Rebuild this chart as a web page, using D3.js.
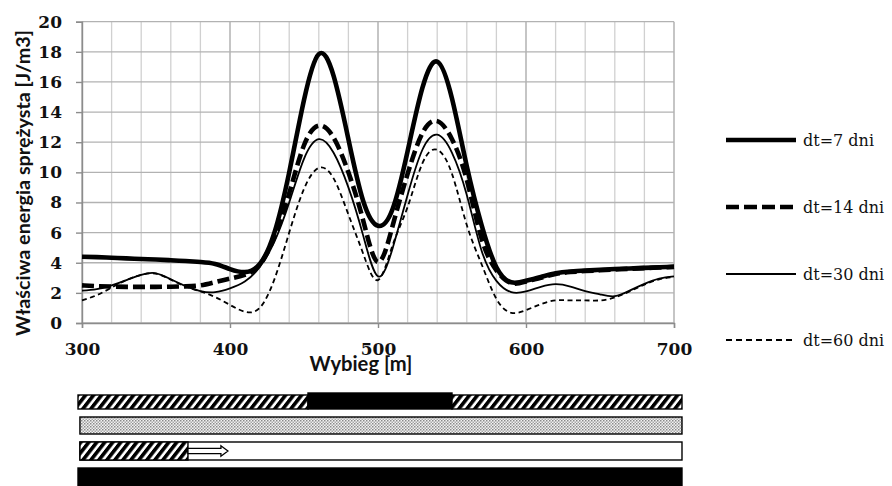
<!DOCTYPE html>
<html><head><meta charset="utf-8">
<script src="https://cdn.jsdelivr.net/npm/d3@7/dist/d3.min.js"></script>
<style>body{margin:0;background:#fff}svg{display:block}</style>
</head><body>
<svg id="c" width="892" height="486"></svg>
<script>
// ---------------- data ----------------
const distances = [300,310,320,330,340,350,360,370,380,390,400,410,420,430,440,450,460,470,480,490,500,
                   510,520,530,540,550,560,570,580,590,600,610,620,630,640,650,660,670,680,690,700];
const seriesNames = ["dt=7 dni","dt=14 dni","dt=30 dni","dt=60 dni"];
const dt7  = [4.40,4.37,4.33,4.29,4.25,4.21,4.17,4.12,4.05,3.92,3.58,3.38,3.90,6.00,10.0,14.8,17.85,16.4,12.2,8.1,6.45,
              7.6,11.4,15.6,17.35,14.9,10.4,6.5,3.7,2.7,2.8,3.05,3.3,3.42,3.48,3.53,3.58,3.62,3.66,3.70,3.74];
const dt14 = [2.50,2.45,2.42,2.40,2.40,2.40,2.41,2.43,2.50,2.72,2.95,3.20,3.85,5.7,8.6,11.8,13.1,12.3,10.0,6.8,4.05,
              6.5,9.9,12.6,13.4,12.2,9.5,5.6,3.5,2.65,2.75,3.0,3.25,3.38,3.45,3.5,3.55,3.6,3.64,3.68,3.72];
const dt30 = [2.15,2.25,2.50,2.85,3.20,3.30,2.90,2.45,2.12,2.05,2.30,2.75,3.70,5.4,8.0,10.9,12.2,11.3,9.0,5.8,3.1,
              5.0,8.5,11.5,12.5,11.3,8.5,4.8,2.8,2.05,2.1,2.4,2.58,2.42,2.12,1.9,1.78,2.15,2.6,2.95,3.1];
const dt60 = [1.50,1.85,2.35,2.85,3.20,3.28,2.88,2.43,2.10,1.72,1.20,0.75,1.00,2.9,6.0,8.9,10.3,9.6,7.2,4.6,2.85,
              5.2,7.7,10.6,11.5,9.9,6.5,3.9,1.6,0.68,0.85,1.25,1.5,1.5,1.5,1.5,1.7,2.1,2.55,2.9,3.05];
const xTickLabels = [300,400,500,600,700];
const yTickLabels = [0,2,4,6,8,10,12,14,16,18,20];
const yTitle = "Właściwa energia sprężysta [J/m3]";
const xTitle = "Wybieg [m]";
// schematic strips below the chart (extent in metres along the run)
const stripSegments = [
  {row:0, from:297.3, to:452.7, fill:"hatch"},
  {row:0, from:452.7, to:550.0, fill:"black"},
  {row:0, from:550.0, to:705.4, fill:"hatch"},
  {row:1, from:298.6, to:705.4, fill:"dots"},
  {row:2, from:298.6, to:705.4, fill:"white"},
  {row:2, from:298.6, to:371.6, fill:"hatch"},
  {row:3, from:297.3, to:705.4, fill:"black"}
];
const stripArrow = {row:2, from:371.6, to:398.6};

// ---------------- layout ----------------
const svg = d3.select("#c");
const x = d3.scaleLinear().domain([300,700]).range([82,674]);
const y = d3.scaleLinear().domain([0,20]).range([323,21.7]);

const defs = svg.append("defs");
const hatch = defs.append("pattern").attr("id","hatch").attr("patternUnits","userSpaceOnUse")
  .attr("width",8).attr("height",8).attr("patternTransform","skewX(-38)");
hatch.append("rect").attr("width",8).attr("height",8).attr("fill","#fff");
hatch.append("rect").attr("width",4.6).attr("height",8).attr("fill","#000");
const dots = defs.append("pattern").attr("id","dots").attr("patternUnits","userSpaceOnUse")
  .attr("width",3).attr("height",3);
dots.append("rect").attr("width",3).attr("height",3).attr("fill","#f2f2f2");
dots.append("rect").attr("width",1.5).attr("height",1.5).attr("fill","#8a8a8a");
dots.append("rect").attr("x",1.5).attr("y",1.5).attr("width",1.5).attr("height",1.5).attr("fill","#a8a8a8");

// grid
const gridX = x.ticks(20);
svg.append("g").selectAll("line").data(gridX).join("line")
  .attr("x1",d=>x(d)).attr("x2",d=>x(d)).attr("y1",y(20)).attr("y2",y(0))
  .attr("stroke",d=>d%100===0?"#a6a6a6":"#d0d0d0").attr("stroke-width",1.3);
svg.append("g").selectAll("line").data(yTickLabels).join("line")
  .attr("x1",x(300)).attr("x2",x(700)).attr("y1",d=>y(d)).attr("y2",d=>y(d))
  .attr("stroke","#b2b2b2").attr("stroke-width",1.3);

// axes
const tickFont = "'DejaVu Serif', serif";
const yAxis = svg.append("g").attr("transform",`translate(${x(300)},0)`)
  .call(d3.axisLeft(y).tickValues(yTickLabels).tickSize(6).tickPadding(14).tickFormat(d3.format("d")));
const xAxis = svg.append("g").attr("transform",`translate(0,${y(0)})`)
  .call(d3.axisBottom(x).tickValues(xTickLabels).tickSize(5).tickPadding(15).tickFormat(d3.format("d")));
[yAxis,xAxis].forEach(g=>{
  g.select(".domain").attr("stroke","#8c8c8c").attr("stroke-width",1.4);
  g.selectAll(".tick line").attr("stroke","#8c8c8c").attr("stroke-width",1.4);
  g.selectAll(".tick text").attr("fill","#111").style("font-family",tickFont)
    .style("font-weight","bold").style("font-size","17px");
});

// titles
function fitText(sel, target){
  const len = sel.node().getComputedTextLength();
  const fs = parseFloat(sel.style("font-size"));
  sel.style("font-size",(fs*target/len).toFixed(2)+"px");
}
const yt = svg.append("text").attr("transform",`translate(25,${183}) rotate(-90)`)
  .attr("text-anchor","middle").attr("dominant-baseline","middle")
  .style("font-family","Lato, 'Open Sans', sans-serif").style("font-weight","bold").style("font-size","17px")
  .attr("fill","#111").text(yTitle);
fitText(yt,306);
const xt = svg.append("text").attr("x",361).attr("y",371).attr("text-anchor","middle")
  .style("font-family","Lato, 'Open Sans', sans-serif").style("font-weight","bold").style("font-size","18px")
  .attr("fill","#111").text(xTitle);
fitText(xt,103);

// series
const styles = [
  {w:4.6, dash:null},
  {w:4.6, dash:"12,5"},
  {w:1.8, dash:null},
  {w:1.8, dash:"5,3.5"}
];
const allSeries = [dt7,dt14,dt30,dt60];
const line = d3.line().x((d,i)=>x(distances[i])).y(d=>y(d)).curve(d3.curveNatural);
const order = [3,2,1,0];
svg.append("g").selectAll("path").data(order).join("path")
  .attr("d",k=>line(allSeries[k])).attr("fill","none").attr("stroke","#000")
  .attr("stroke-width",k=>styles[k].w).attr("stroke-dasharray",k=>styles[k].dash)
  .attr("stroke-linejoin","round");

// legend
const legY = [140,207,274,340];
const leg = svg.append("g").selectAll("g").data(seriesNames).join("g")
  .attr("transform",(d,i)=>`translate(0,${legY[i]})`);
leg.append("line").attr("x1",726).attr("x2",796).attr("y1",0).attr("y2",0)
  .attr("stroke","#000").attr("stroke-width",(d,i)=>styles[i].w)
  .attr("stroke-dasharray",(d,i)=>i===1?"13,5":(i===3?"6,4":null));
leg.append("text").attr("x",803).attr("y",5.5).text(d=>d)
  .style("font-family",tickFont).style("font-size","16px").attr("fill","#111");

// strips
const rows = [{top:395,h:14},{top:417,h:17},{top:442,h:18},{top:468,h:19}];
const fills = {hatch:"url(#hatch)", black:"#000", white:"#fff", dots:"url(#dots)"};
svg.append("g").selectAll("rect").data(stripSegments).join("rect")
  .attr("x",d=>x(d.from)).attr("width",d=>x(d.to)-x(d.from))
  .attr("y",d=>rows[d.row].top - (d.fill==="black"&&d.row===0?2:0))
  .attr("height",d=>rows[d.row].h + (d.fill==="black"&&d.row===0?2:0))
  .attr("fill",d=>fills[d.fill]).attr("stroke","#000").attr("stroke-width",1.4);
const ar = rows[stripArrow.row], cy = ar.top + ar.h/2, x0 = x(stripArrow.from), xe = x(stripArrow.to);
svg.append("path").attr("d",`M${x0},${cy-2.6}H${xe-7}V${cy-5.2}L${xe},${cy}L${xe-7},${cy+5.2}V${cy+2.6}H${x0}Z`)
  .attr("fill","#fff").attr("stroke","#000").attr("stroke-width",1.3);
</script>
</body></html>
